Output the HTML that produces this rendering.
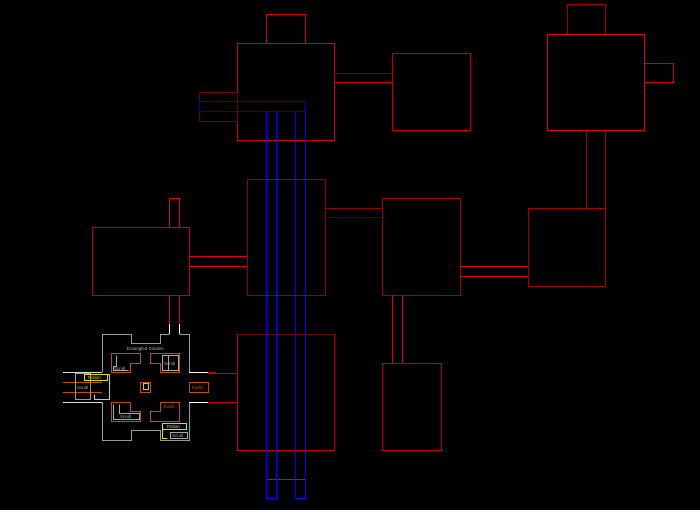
<!DOCTYPE html>
<html><head><meta charset="utf-8"><style>
html,body{margin:0;padding:0;background:#000;width:700px;height:510px;overflow:hidden}
svg{display:block}
text{font-family:"Liberation Sans",sans-serif}
</style></head><body>
<svg width="700" height="510" viewBox="0 0 700 510" xmlns="http://www.w3.org/2000/svg" shape-rendering="crispEdges">
<rect width="700" height="510" fill="#000"/>
<g fill="none" stroke-width="1">
<rect x="266.5" y="14.5" width="39" height="29" stroke="#d00000"/>
<rect x="237.5" y="43.5" width="97" height="97" stroke="#d00000"/>
<rect x="199.5" y="92.5" width="38" height="29" stroke="#700000"/>
<line x1="334" y1="73.5" x2="392" y2="73.5" stroke="#700000"/>
<line x1="334" y1="82.5" x2="392" y2="82.5" stroke="#d00000"/>
<rect x="392.5" y="53.5" width="78" height="77" stroke="#c00000"/>
<rect x="567.5" y="4.5" width="38" height="30" stroke="#a00000"/>
<rect x="547.5" y="34.5" width="97" height="96" stroke="#e00000"/>
<rect x="644.5" y="63.5" width="29" height="19" stroke="#d00000"/>
<line x1="586.5" y1="130" x2="586.5" y2="208" stroke="#a00000"/>
<line x1="605.5" y1="130" x2="605.5" y2="208" stroke="#a00000"/>
<rect x="528.5" y="208.5" width="77" height="78" stroke="#a00000"/>
<rect x="382.5" y="198.5" width="78" height="97" stroke="#a00000"/>
<line x1="460" y1="266.5" x2="528" y2="266.5" stroke="#e00000"/>
<line x1="460" y1="276.5" x2="528" y2="276.5" stroke="#e00000"/>
<line x1="392.5" y1="295" x2="392.5" y2="363" stroke="#e00000"/>
<line x1="402.5" y1="295" x2="402.5" y2="363" stroke="#e00000"/>
<rect x="382.5" y="363.5" width="59" height="87" stroke="#c00000"/>
<rect x="247.5" y="179.5" width="78" height="116" stroke="#900000"/>
<line x1="325" y1="208.5" x2="382" y2="208.5" stroke="#900000"/>
<line x1="325" y1="217.5" x2="382" y2="217.5" stroke="#500000"/>
<rect x="92.5" y="227.5" width="97" height="68" stroke="#c00000"/>
<rect x="169.5" y="198.5" width="10" height="29" stroke="#e00000"/>
<line x1="189" y1="256.5" x2="247" y2="256.5" stroke="#e00000"/>
<line x1="189" y1="266.5" x2="247" y2="266.5" stroke="#e00000"/>
<line x1="169.5" y1="295" x2="169.5" y2="324" stroke="#e00000"/>
<line x1="179.5" y1="295" x2="179.5" y2="324" stroke="#e00000"/>
<line x1="169.5" y1="324" x2="169.5" y2="334" stroke="#fff"/>
<line x1="179.5" y1="324" x2="179.5" y2="334" stroke="#fff"/>
<rect x="237.5" y="334.5" width="97" height="116" stroke="#c00000"/>
<line x1="237.5" y1="334.5" x2="334" y2="334.5" stroke="#700000"/>
<line x1="208" y1="373.5" x2="237" y2="373.5" stroke="#c00000"/>
<line x1="208" y1="402.5" x2="237" y2="402.5" stroke="#c00000"/>
<line x1="266.5" y1="140" x2="266.5" y2="479" stroke="#e00000"/>
<line x1="305.5" y1="140" x2="305.5" y2="479" stroke="#e00000"/>
<line x1="266.5" y1="479.5" x2="305.5" y2="479.5" stroke="#e00000"/>
<rect x="199.5" y="101.5" width="106" height="10" stroke="#0000b0"/>
<path d="M266.5 111 V498.5 H276.5 V111" stroke="#0000ff" stroke-width="1.5"/>
<path d="M295.5 111 V498.5 H305.5 V111" stroke="#0000ff"/>
<path d="M102.5 372 V334.5 H131.5 V343.5 H160.5 V334.5 H169.5 M179.5 334.5 H189.5 V372.5 H208" stroke="#999"/>
<path d="M102.5 402 V440.5 H131.5 V430.5 H160.5 V440.5 H189.5 V402.5 H208" stroke="#999"/>
<line x1="63" y1="372.5" x2="102" y2="372.5" stroke="#ddd"/>
<line x1="63" y1="402.5" x2="102" y2="402.5" stroke="#ddd"/>
<line x1="189" y1="372.5" x2="208" y2="372.5" stroke="#fff"/>
<line x1="189" y1="402.5" x2="208" y2="402.5" stroke="#fff"/>
<path d="M111.5 353.5 H140.5 V363.5 H130.5 V372.5 H111.5 Z" stroke="#c05000"/>
<path d="M150.5 353.5 H179.5 V372.5 H160.5 V363.5 H150.5 Z" stroke="#c05000"/>
<rect x="140.5" y="382.5" width="10" height="10" stroke="#c05000"/>
<path d="M111.5 402.5 H130.5 V411.5 H140.5 V421.5 H111.5 Z" stroke="#c05000"/>
<path d="M160.5 402.5 H179.5 V421.5 H150.5 V411.5 H160.5 Z" stroke="#c05000"/>
<rect x="189.5" y="382.5" width="19" height="10" stroke="#c05000"/>
<line x1="63" y1="382.5" x2="102" y2="382.5" stroke="#c05000"/>
<line x1="63" y1="392.5" x2="102" y2="392.5" stroke="#c05000"/>
<path d="M116.5 355.5 V366.5 H113.5 V370.5 H128.5" stroke="#aaa"/>
<path d="M168.5 355.5 V370.5 H178.5" stroke="#aaa"/>
<rect x="162.5" y="355.5" width="16" height="15" stroke="#aaa"/>
<rect x="143.5" y="383.5" width="5" height="6" stroke="#bbb"/>
<path d="M119.5 404.5 V413.5 H139.5 V419.5 H113.5 V404.5" stroke="#aaa"/>
<rect x="75.5" y="373.5" width="15" height="26" stroke="#999"/>
<rect x="84.5" y="374.5" width="23" height="6" stroke="#dd0"/>
<path d="M102.5 374.5 H109.5 V399.5 H94.5 V394.5" stroke="#dd0"/>
<rect x="162.5" y="423.5" width="24" height="6" stroke="#dd0"/>
<path d="M162.5 423.5 V438.5 H167.5" stroke="#dd0"/>
<rect x="170.5" y="432.5" width="17" height="6" stroke="#aaa"/>
<line x1="208" y1="372.5" x2="216" y2="372.5" stroke="#c00000"/>
<line x1="208" y1="402.5" x2="216" y2="402.5" stroke="#c00000"/>
</g>
<g font-size="4.5">
<text x="127" y="350" fill="#aac">Entangled Garden</text>
<text x="114" y="370" fill="#aaa">Scroll</text>
<text x="164" y="365" fill="#aaa">Scroll</text>
<text x="88" y="379" fill="#dd0">Potion</text>
<text x="77" y="389" fill="#aaa">Scroll</text>
<text x="192" y="389" fill="#c05000">Earth</text>
<text x="164" y="408" fill="#c05000">Earth</text>
<text x="120" y="418" fill="#aaa">Scroll</text>
<text x="167" y="428" fill="#dd0">Potion</text>
<text x="172" y="437" fill="#aaa">Scroll</text>
</g>
</svg>
</body></html>
